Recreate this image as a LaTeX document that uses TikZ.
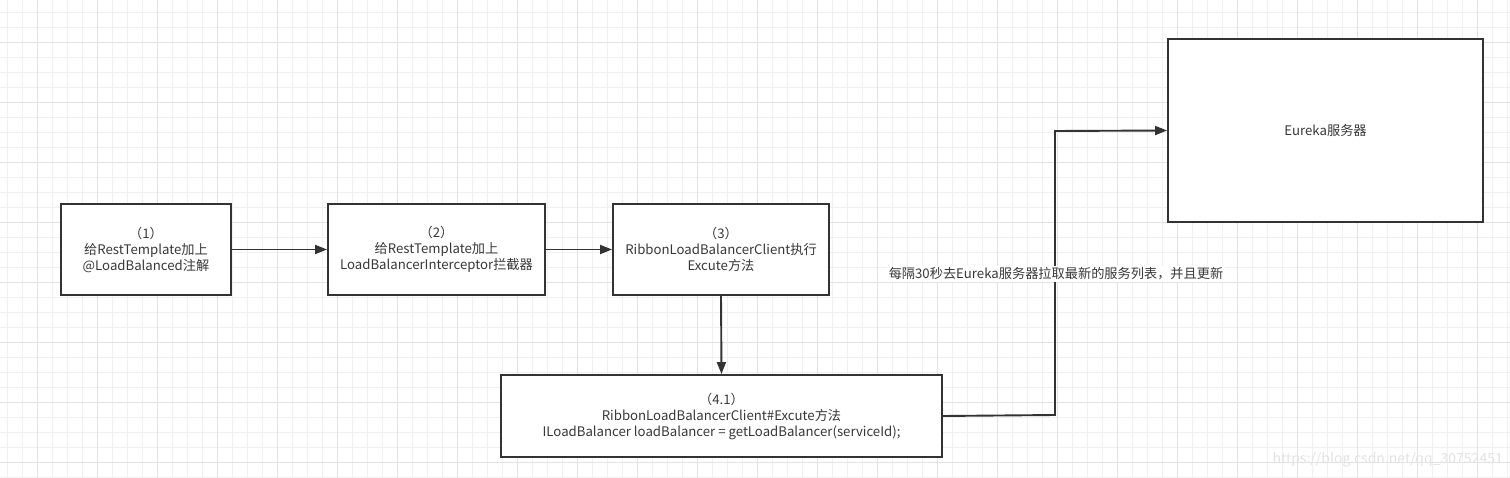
\documentclass[tikz,border=0pt]{standalone}
\usepackage{fontspec}
\setmainfont{Noto Sans CJK SC}
\usetikzlibrary{arrows.meta}
\definecolor{linec}{HTML}{333333}
\definecolor{textc}{HTML}{383838}
\definecolor{gridminor}{HTML}{F0F0F0}
\definecolor{gridmajor}{HTML}{E3E3E3}
\tikzset{
  stepbox/.style={draw=linec, line width=1.9pt, fill=white, align=center, text=textc,
    font=\fontsize{13.2}{16}\selectfont, inner sep=0pt},
  conn/.style={draw=linec, line width=1.9pt, -{Triangle[length=12pt,width=9pt]}},
  lbl/.style={fill=white, text=textc, font=\fontsize{13.2}{16}\selectfont, inner sep=1.5pt}
}
\begin{document}
\begin{tikzpicture}[x=1pt,y=-1pt]
\useasboundingbox (0,0) rectangle (1510,478);
\fill[white] (0,0) rectangle (1510,478);
\foreach \x in {7,22,...,1510} \draw[gridminor, line width=0.8pt] (\x,0) -- (\x,478);
\foreach \y in {12,27,...,478} \draw[gridminor, line width=0.8pt] (0,\y) -- (1510,\y);
\foreach \x in {37,97,...,1510} \draw[gridmajor, line width=0.8pt] (\x,0) -- (\x,478);
\foreach \y in {42,102,...,478} \draw[gridmajor, line width=0.8pt] (0,\y) -- (1510,\y);

\node[stepbox, minimum width=170pt, minimum height=91pt] (b1) at (146,249.5)
  {（1）\\给RestTemplate加上\\@LoadBalanced注解};
\node[stepbox, minimum width=217pt, minimum height=91pt] (b2) at (436.5,249.5)
  {（2）\\给RestTemplate加上\\LoadBalancerInterceptor拦截器};
\node[stepbox, minimum width=216pt, minimum height=91pt] (b3) at (721,249.5)
  {（3）\\RibbonLoadBalancerClient执行\\Excute方法};
\node[stepbox, minimum width=441pt, minimum height=82pt] (b4) at (721.5,416)
  {（4.1）\\RibbonLoadBalancerClient\#Excute方法\\ILoadBalancer loadBalancer = getLoadBalancer(serviceId);};
\node[stepbox, minimum width=315pt, minimum height=183pt] (eu) at (1325.5,130.5)
  {Eureka服务器};

\draw[conn] (b1.east) -- (b2.west);
\draw[conn] (b2.east) -- (b3.west);
\draw[conn] (b3.south) -- (b4.north);
\coordinate (c1) at (1055,415);
\coordinate (c2) at (1055,131);
\draw[conn] (b4.east) -- (c1) -- (c2) -- (eu.west);
\node[lbl] (l1) at (1056,274) {每隔30秒去Eureka服务器拉取最新的服务列表，并且更新};

\node[text=gridmajor, font=\fontsize{14}{15}\selectfont, anchor=east, inner sep=0pt] (wm) at (1503,460)
  {https://blog.csdn.net/qq\_30752451};
\end{tikzpicture}
\end{document}
